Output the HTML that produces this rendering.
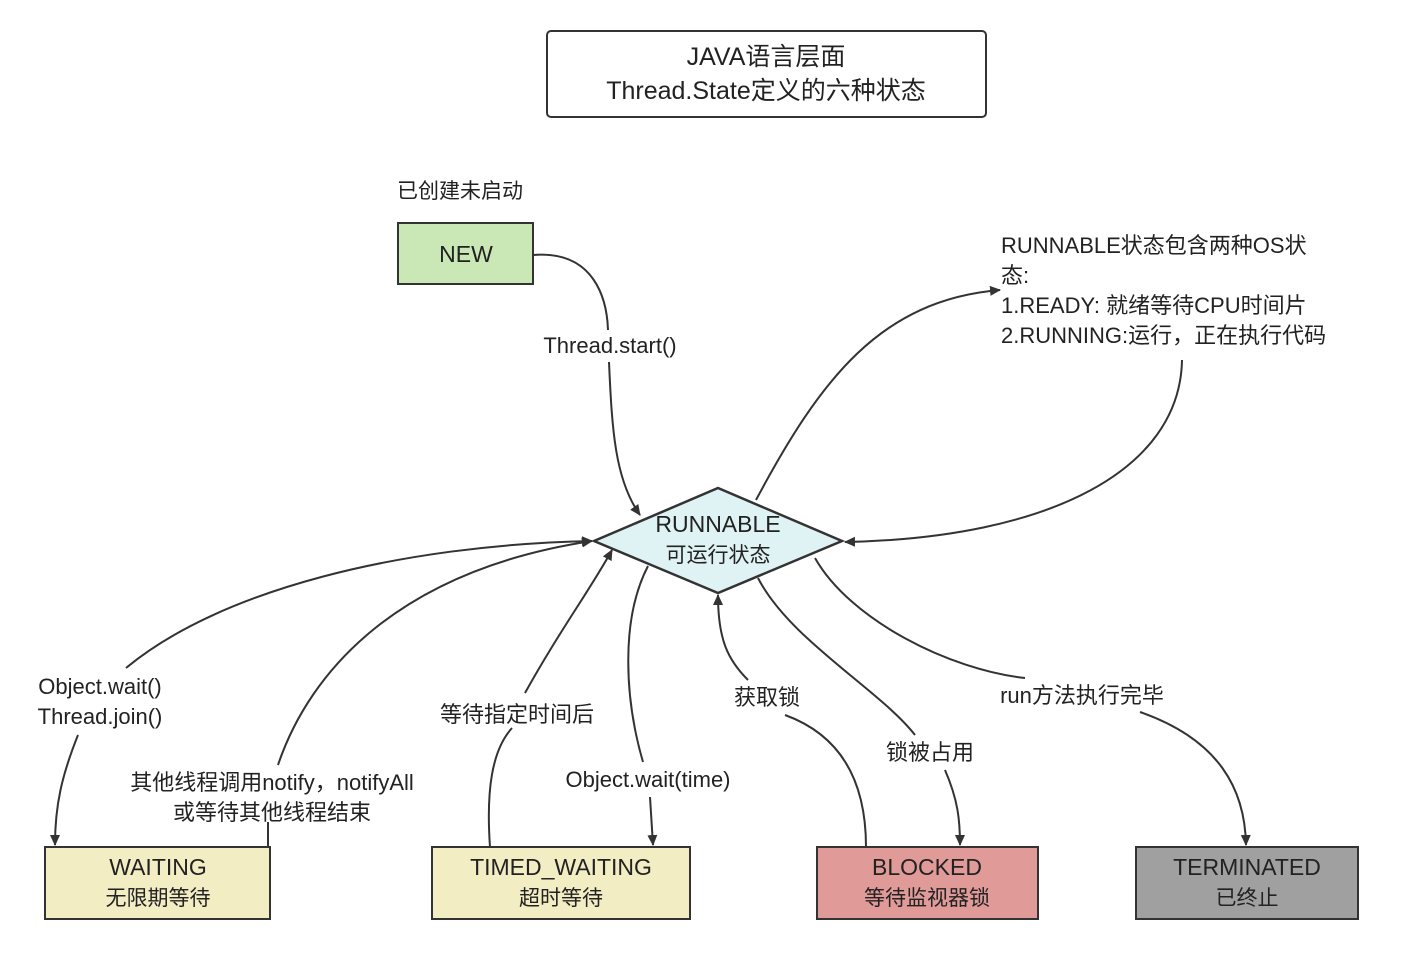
<!DOCTYPE html>
<html><head><meta charset="utf-8"><style>
body{margin:0;background:#fff}
svg{display:block}
text{font-family:"Liberation Sans","Noto Sans CJK SC",sans-serif;fill:#222}
</style></head><body>
<svg width="1412" height="962" viewBox="0 0 1412 962" xmlns="http://www.w3.org/2000/svg">
<defs><marker id="a" markerWidth="12" markerHeight="12" refX="10" refY="5" orient="auto" markerUnits="userSpaceOnUse"><path d="M0,0 L11,5 L0,10 Z" fill="#333"/></marker></defs>
<rect x="547" y="31" width="439" height="86" rx="4" fill="#fff" stroke="#333" stroke-width="2"/>
<text x="766" y="65" font-size="25" text-anchor="middle">JAVA语言层面</text>
<text x="766" y="99" font-size="25" text-anchor="middle">Thread.State定义的六种状态</text>
<text x="397" y="198" font-size="21">已创建未启动</text>
<rect x="398" y="223" width="135" height="61" fill="#c9e8b6" stroke="#333" stroke-width="2"/>
<text x="466" y="262" font-size="23" text-anchor="middle">NEW</text>
<polygon points="718,488 842,541 718,593 594,541" fill="#dff2f4" stroke="#333" stroke-width="2.5"/>
<text x="718" y="532" font-size="23" text-anchor="middle">RUNNABLE</text>
<text x="718" y="562" font-size="21" text-anchor="middle">可运行状态</text>
<text font-size="22"><tspan x="1001" y="253">RUNNABLE状态包含两种OS状</tspan><tspan x="1001" y="283">态:</tspan><tspan x="1001" y="313">1.READY: 就绪等待CPU时间片</tspan><tspan x="1001" y="343">2.RUNNING:运行，正在执行代码</tspan></text>
<rect x="45" y="847" width="225" height="72" fill="#f3edc4" stroke="#333" stroke-width="2"/>
<text x="158" y="875" font-size="23" text-anchor="middle">WAITING</text><text x="158" y="905" font-size="21" text-anchor="middle">无限期等待</text>
<rect x="432" y="847" width="258" height="72" fill="#f3edc4" stroke="#333" stroke-width="2"/>
<text x="561" y="875" font-size="23" text-anchor="middle">TIMED_WAITING</text><text x="561" y="905" font-size="21" text-anchor="middle">超时等待</text>
<rect x="817" y="847" width="221" height="72" fill="#e09a98" stroke="#333" stroke-width="2"/>
<text x="927" y="875" font-size="23" text-anchor="middle">BLOCKED</text><text x="927" y="905" font-size="21" text-anchor="middle">等待监视器锁</text>
<rect x="1136" y="847" width="222" height="72" fill="#a0a0a0" stroke="#333" stroke-width="2"/>
<text x="1247" y="875" font-size="23" text-anchor="middle">TERMINATED</text><text x="1247" y="905" font-size="21" text-anchor="middle">已终止</text>
<g fill="none" stroke="#333" stroke-width="2">
<path d="M533,255 C595,250 607,300 608,330"/>
<path d="M609,362 C612,430 615,480 640,515" marker-end="url(#a)"/>
<path d="M756,500 C820,380 880,300 1000,290" marker-end="url(#a)"/>
<path d="M1182,360 C1180,470 1050,538 845,542" marker-end="url(#a)"/>
<path d="M126,668 C220,590 400,545 592,541" marker-end="url(#a)"/>
<path d="M78,735 C62,775 55,805 55,845" marker-end="url(#a)"/>
<path d="M268,847 L268,822"/>
<path d="M278,765 C310,670 400,570 592,541" marker-end="url(#a)"/>
<path d="M490,847 C486,790 492,750 512,728"/>
<path d="M525,693 C560,630 590,590 612,550" marker-end="url(#a)"/>
<path d="M648,566 C620,620 625,700 643,762"/>
<path d="M650,797 L653,845" marker-end="url(#a)"/>
<path d="M866,847 C866,780 840,735 785,715"/>
<path d="M748,680 C728,660 718,640 718,595" marker-end="url(#a)"/>
<path d="M758,578 C790,640 880,690 915,735"/>
<path d="M945,770 C958,800 960,820 960,845" marker-end="url(#a)"/>
<path d="M815,558 C850,620 950,670 1025,678"/>
<path d="M1140,712 C1220,740 1245,790 1246,845" marker-end="url(#a)"/>
</g>
<g font-size="22" text-anchor="middle">
<text x="610" y="353">Thread.start()</text>
<text x="100" y="694">Object.wait()</text>
<text x="100" y="724">Thread.join()</text>
<text x="272" y="790">其他线程调用notify，notifyAll</text>
<text x="272" y="820">或等待其他线程结束</text>
<text x="517" y="722">等待指定时间后</text>
<text x="648" y="787">Object.wait(time)</text>
<text x="767" y="705">获取锁</text>
<text x="930" y="760">锁被占用</text>
<text x="1082" y="703">run方法执行完毕</text>
</g>
</svg>
</body></html>
